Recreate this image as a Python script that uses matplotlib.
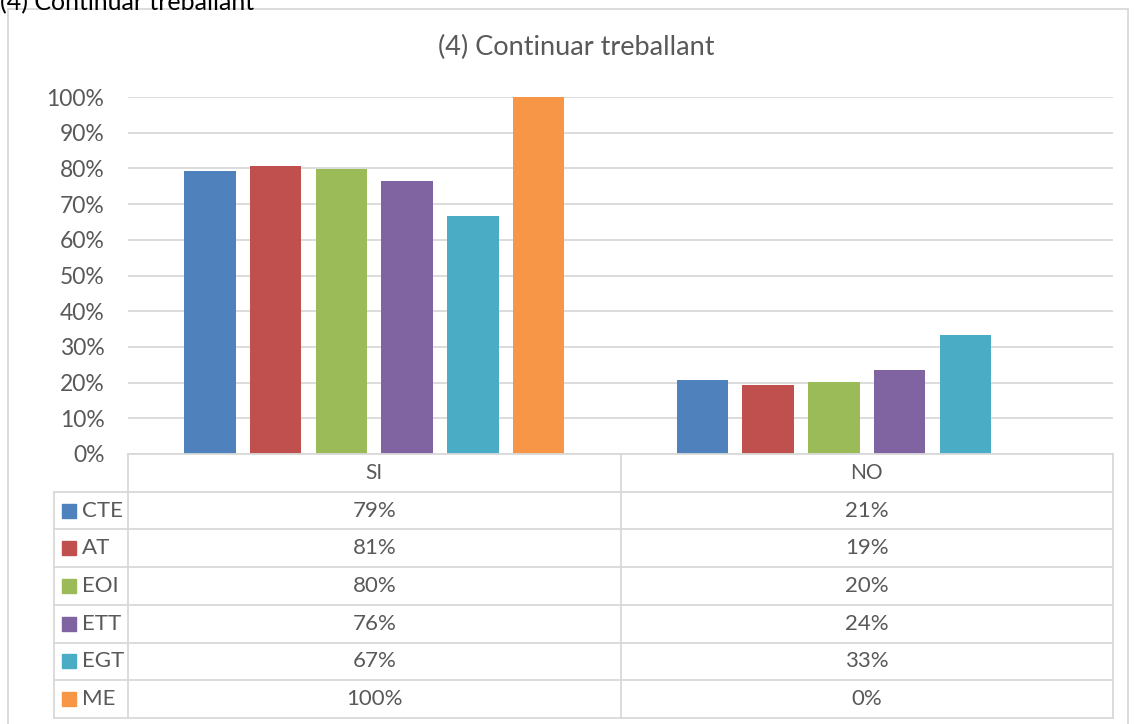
import matplotlib
matplotlib.use("Agg")
import matplotlib.pyplot as plt
from matplotlib.patches import Rectangle
import numpy as np

categories = ["SI", "NO"]
series = ["CTE", "AT", "EOI", "ETT", "EGT", "ME"]
values = {
    "CTE": [79.4, 20.6],
    "AT": [80.8, 19.2],
    "EOI": [79.9, 20.1],
    "ETT": [76.5, 23.5],
    "EGT": [66.7, 33.3],
    "ME": [100.0, 0.0],
}
table_labels = {
    "CTE": ["79%", "21%"],
    "AT": ["81%", "19%"],
    "EOI": ["80%", "20%"],
    "ETT": ["76%", "24%"],
    "EGT": ["67%", "33%"],
    "ME": ["100%", "0%"],
}
colors = ["#4F81BD", "#C0504D", "#9BBB59", "#8064A2", "#4BACC6", "#F79646"]
title = "(4) Continuar treballant"

W, H = 1135, 724
fig = plt.figure(figsize=(W / 100, H / 100), dpi=100)
plt.rcParams['font.family'] = ['Lato', 'DejaVu Sans']
txt = "#595959"
grid = "#D9D9D9"
fs = 16

def fx(px):
    return px / W

def fy(py):
    return 1 - py / H

# outer chart border
fig.add_artist(Rectangle((fx(8), fy(740)), fx(1128) - fx(8), fy(9) - fy(740),
                         transform=fig.transFigure, fill=False, edgecolor=grid, lw=1.3))
# cut-off text at the top (as in the reference)
fig.text(fx(0), fy(3), title, fontsize=18, color="black", ha="left", va="center")

# main axes
x0, x1, ytop, ybot = 128, 1113, 97, 454
ax = fig.add_axes([fx(x0), fy(ybot), fx(x1) - fx(x0), fy(ytop) - fy(ybot)])
ax.set_xlim(-0.5, 1.5)
ax.set_ylim(0, 100)
x = np.arange(len(categories))
pitch = 0.1335
width = 0.105
n = len(series)
for i, s in enumerate(series):
    ax.bar(x + (i - (n - 1) / 2) * pitch, values[s], width=width, color=colors[i], zorder=3)
ax.set_yticks(np.arange(0, 101, 10))
ax.set_yticklabels([f"{v}%" for v in range(0, 101, 10)], fontsize=fs + 0.5, color=txt)
ax.tick_params(axis='y', length=0, pad=17)
ax.set_xticks([])
ax.grid(axis='y', color=grid, lw=1.3, zorder=0)
for sp in ax.spines.values():
    sp.set_visible(False)
fig.text(fx(576), fy(47), title, fontsize=19.5, color=txt, ha="center", va="center")

# data table
tx0, tx1, ty0, ty1 = 54, 1113, 454, 718
tax = fig.add_axes([fx(tx0), fy(ty1), fx(tx1) - fx(tx0), fy(ty0) - fy(ty1)])
left_data = -0.5 - (x0 - tx0) / (x1 - x0) * 2.0
tax.set_xlim(left_data, 1.5)
tax.set_ylim(n + 1, 0)
tax.axis('off')
lw = 1.3
tax.plot([-0.5, -0.5], [0, n + 1], color=grid, lw=lw, clip_on=False)
tax.plot([0.5, 0.5], [0, n + 1], color=grid, lw=lw, clip_on=False)
tax.plot([1.5, 1.5], [0, n + 1], color=grid, lw=lw, clip_on=False)
tax.plot([left_data, left_data], [1, n + 1], color=grid, lw=lw, clip_on=False)
tax.plot([-0.5, 1.5], [0, 0], color=grid, lw=lw, clip_on=False)
for r in range(1, n + 2):
    tax.plot([left_data, 1.5], [r, r], color=grid, lw=lw, clip_on=False)
for j, c in enumerate(categories):
    tax.text(j, 0.5, c, fontsize=fs - 1, color=txt, ha="center", va="center")
sq = 14 / (x1 - x0) * 2.0
sqh = 14 / ((ty1 - ty0) / (n + 1))
for i, s in enumerate(series):
    r = i + 1.5
    tax.add_patch(Rectangle((left_data + 8 / (x1 - x0) * 2.0, r - sqh / 2), sq, sqh,
                            color=colors[i], clip_on=False))
    tax.text(left_data + 28 / (x1 - x0) * 2.0, r, s, fontsize=fs, color=txt, ha="left", va="center")
    for j in range(len(categories)):
        tax.text(j, r, table_labels[s][j], fontsize=fs, color=txt, ha="center", va="center")

fig.savefig("out.png", dpi=100)
